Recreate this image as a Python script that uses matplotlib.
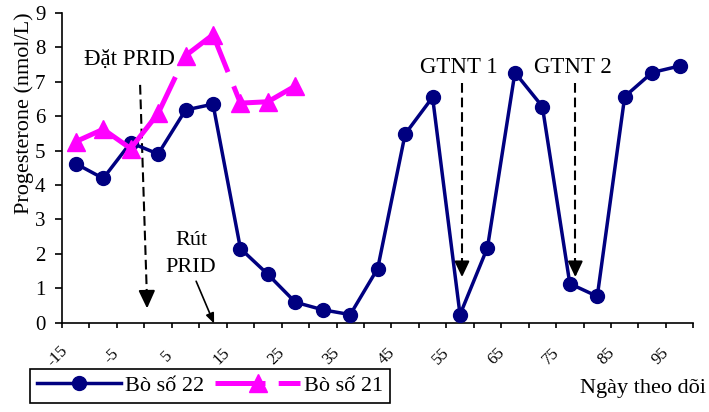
import numpy as np
import matplotlib
matplotlib.use('Agg')
import matplotlib.pyplot as plt
from matplotlib.lines import Line2D

plt.rcParams['font.family'] = 'Liberation Serif'
plt.rcParams['lines.scale_dashes'] = False

# data (day of follow-up, progesterone nmol/L)
days = [-15, -10, -5, 0, 5, 10, 15, 20, 25, 30, 35, 40,
        45, 50, 55, 60, 65, 70, 75, 80, 85, 90, 95]
cow22 = [4.62, 4.19, 5.23, 4.90, 6.18, 6.35, 2.15, 1.40, 0.59, 0.37, 0.23, 1.57,
         5.48, 6.55, 0.23, 2.18, 7.27, 6.28, 1.13, 0.76, 6.57, 7.27, 7.46]
days21 = [-15, -10, -5, 0, 5, 10, 15, 20, 25]
cow21 = [5.26, 5.62, 5.06, 6.08, 7.76, 8.37, 6.38, 6.42, 6.88]
tick_labels = ['-15', '-5', '5', '15', '25', '35', '45', '55', '65', '75', '85', '95']

navy = '#000080'
pink = '#FF00FF'

fig = plt.figure(figsize=(7.09, 4.12), dpi=100)
ax = fig.add_axes([0.0875, 0.2172, 0.8904, 0.7512])

ax.plot(days, cow22, color=navy, lw=2.5, marker='o', ms=10, zorder=3)
# long dash restarts on every segment (like the original)
for i in range(len(days21) - 1):
    ax.plot(days21[i:i + 2], cow21[i:i + 2], color=pink, lw=3.6,
            dashes=(29, 11), zorder=4)
ax.plot(days21, cow21, ls='none', marker='^', ms=12.5, color=pink, zorder=5)

ax.set_xlim(-17.5, 97.5)
ax.set_ylim(0, 9)
for s in ['top', 'right']:
    ax.spines[s].set_visible(False)
for s in ['left', 'bottom']:
    ax.spines[s].set_linewidth(1.2)

tick_pos = np.arange(-17.5, 98, 5)
ax.set_xticks(tick_pos)
ax.set_xticklabels([])
ax.tick_params(axis='x', direction='out', length=3.5, width=1.2)
ax.set_yticks(range(10))
ax.tick_params(axis='y', direction='out', length=5, width=1.2, labelsize=15, pad=7)

for pos, lab in zip(tick_pos[::2], tick_labels):
    ax.text(pos - 0.9, -0.97, lab, rotation=45, ha='center', va='center',
            fontsize=12, clip_on=False)

# annotations
ax.text(-5.2, 7.49, 'Đặt PRID', ha='center', va='baseline', fontsize=16.5)
ax.plot([-3.28, -2.05], [6.91, 0.8], color='k', lw=1.5, dashes=(7, 3.5))
ax.annotate('', xy=(-2.01, 0.41), xytext=(-2.05, 0.85),
            arrowprops=dict(arrowstyle='-|>,head_length=1.08,head_width=0.5',
                            color='k', lw=1.5, shrinkA=0, shrinkB=0, mutation_scale=10))

ax.text(6.0, 2.24, 'Rút', ha='center', va='baseline', fontsize=16)
ax.text(6.0, 1.46, 'PRID', ha='center', va='baseline', fontsize=16)
ax.annotate('', xy=(10.2, -0.03), xytext=(6.93, 1.2), annotation_clip=False,
            arrowprops=dict(arrowstyle='-|>,head_length=0.6,head_width=0.25',
                            color='k', lw=1.2, shrinkA=0, shrinkB=0, mutation_scale=10))

for lab, xt, xa in [('GTNT 1', 54.7, 55.36), ('GTNT 2', 75.55, 76.0)]:
    ax.text(xt, 7.27, lab, ha='center', va='baseline', fontsize=16.5)
    ax.plot([xa, xa], [6.96, 1.7], color='k', lw=1.5, dashes=(7, 3.5))
    ax.annotate('', xy=(xa, 1.32), xytext=(xa, 1.8),
                arrowprops=dict(arrowstyle='-|>,head_length=0.95,head_width=0.45',
                                color='k', lw=1.5, shrinkA=0, shrinkB=0, mutation_scale=10))

fig.text(24 / 709, 1 - 113 / 412, 'Progesterone (nmol/L)', rotation=90,
         ha='center', va='center', fontsize=16)
fig.text(706 / 709, 1 - 393 / 412, 'Ngày theo dõi', ha='right', va='baseline', fontsize=16)

h22 = Line2D([], [], color=navy, lw=2.5, marker='o', ms=10)
h21 = Line2D([], [], color=pink, lw=3.6, marker='^', ms=12.5, dashes=(36, 9.5))
leg = fig.legend([h22, h21], ['Bò số 22', 'Bò số 21'], loc='upper left',
                 bbox_to_anchor=(30 / 709, 1 - 369 / 412), ncol=2, frameon=True,
                 fancybox=False, edgecolor='k', framealpha=1, borderaxespad=0,
                 handlelength=3.8, handletextpad=0.18, columnspacing=0.5,
                 borderpad=0.3, fontsize=16, numpoints=1)
leg.get_frame().set_linewidth(1.2)

fig.savefig('out.png', dpi=100)
